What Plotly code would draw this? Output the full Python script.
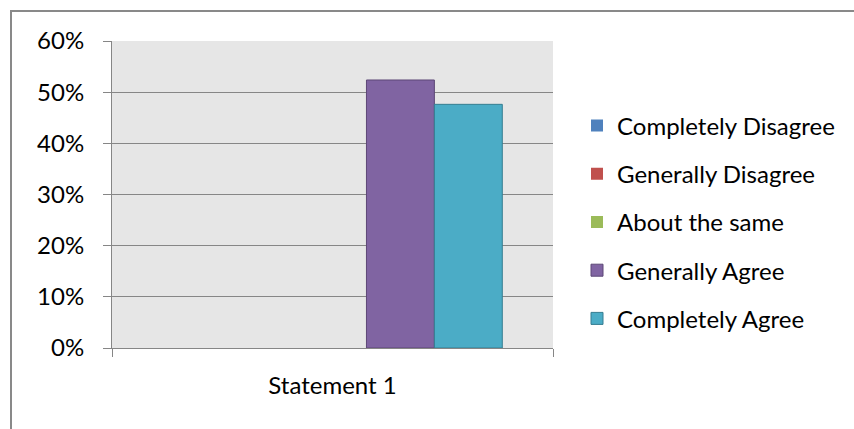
import plotly.graph_objects as go

categories = ["Statement 1"]
series_names = ["Completely Disagree", "Generally Disagree", "About the same",
                "Generally Agree", "Completely Agree"]
series_values = [[0.0], [0.0], [0.0], [0.5238], [0.4762]]
fill_colors = ["#4F81BD", "#C0504D", "#9BBB59", "#8064A2", "#4BACC6"]
line_colors = ["#385D8A", "#8C3836", "#71893F", "#5C4776", "#357D91"]
y_tick_vals = [0, 0.1, 0.2, 0.3, 0.4, 0.5, 0.6]

FONT = "Lato"
W, H = 854, 429
ML, MR, MT, MB = 112, 301, 41, 81
PW, PH = W - ML - MR, H - MT - MB

def px_x(px):
    return (px - ML) / PW

def px_y(py):
    return (H - MB - py) / PH

fig = go.Figure()
for name, vals, fc, lc in zip(series_names, series_values, fill_colors, line_colors):
    fig.add_trace(go.Bar(
        x=categories, y=vals, name=name, legendgroup=name,
        marker=dict(color=fc, line=dict(color=lc, width=[1 if v > 0 else 0 for v in vals])),
    ))

fig.update_layout(
    width=W, height=H,
    margin=dict(l=ML, r=MR, t=MT, b=MB, autoexpand=False),
    paper_bgcolor="white",
    plot_bgcolor="#E6E6E6",
    barmode="group",
    bargap=0.23, bargroupgap=0,
    font=dict(family=FONT, size=24, color="#000000"),
    showlegend=True,
    legend=dict(
        x=px_x(577), y=px_y(222), xanchor="left", yanchor="middle",
        traceorder="grouped", tracegroupgap=14,
        font=dict(family=FONT, size=24, color="#000000"),
        bgcolor="rgba(0,0,0,0)", itemwidth=30,
    ),
    xaxis=dict(
        type="category", range=[-0.5, 0.5],
        showgrid=False, showline=True, linecolor="#868686", linewidth=1,
        ticks="outside", ticklen=8, tickcolor="#868686", tickwidth=1,
        tickson="boundaries", ticklabelstandoff=16,
        tickfont=dict(family=FONT, size=24, color="#000000"),
    ),
    yaxis=dict(
        range=[0, 0.6], tickvals=y_tick_vals, tickformat=".0%",
        showgrid=True, gridcolor="#868686", gridwidth=1,
        zeroline=False, showline=True, linecolor="#868686", linewidth=1,
        ticks="outside", ticklen=8, tickcolor="#868686", tickwidth=1,
        ticklabelstandoff=14,
        tickfont=dict(family=FONT, size=24, color="#000000"),
    ),
    shapes=[dict(
        type="rect", xref="paper", yref="paper",
        x0=px_x(11), x1=px_x(870), y0=px_y(445), y1=px_y(11),
        line=dict(color="#898989", width=2), fillcolor="rgba(0,0,0,0)",
        layer="below",
    )],
)

fig.write_html(
    "out.html",
    config={"displayModeBar": False},
    post_script="document.body.style.margin='0';document.body.style.overflow='hidden';",
)
